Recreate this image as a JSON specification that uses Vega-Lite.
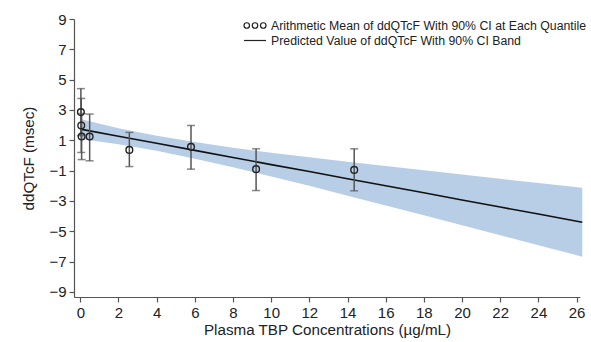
{
  "$schema": "https://vega.github.io/schema/vega-lite/v6.json",
  "width": 506,
  "height": 278,
  "autosize": {"type": "none"},
  "padding": {"left": 74, "top": 19, "right": 11, "bottom": 45},
  "background": "white",
  "config": {
    "view": {"stroke": null},
    "font": "Liberation Sans",
    "axis": {
      "grid": false,
      "domainColor": "#555555",
      "tickColor": "#555555",
      "labelColor": "#222222",
      "titleColor": "#222222",
      "labelFont": "Liberation Sans",
      "titleFont": "Liberation Sans",
      "labelFontSize": 15,
      "titleFontSize": 15.2,
      "titleFontWeight": "normal",
      "tickSize": 5,
      "domainWidth": 1.2,
      "tickWidth": 1.2,
      "labelOverlap": false,
      "labelBound": false,
      "labelFlush": false
    }
  },
  "datasets": {
    "band": [
      {"conc": 0, "pred": 1.74, "lower": 1.08, "upper": 2.4},
      {"conc": 2, "pred": 1.27, "lower": 0.74, "upper": 1.8},
      {"conc": 4, "pred": 0.81, "lower": 0.31, "upper": 1.31},
      {"conc": 6, "pred": 0.34, "lower": -0.21, "upper": 0.89},
      {"conc": 8, "pred": -0.13, "lower": -0.77, "upper": 0.51},
      {"conc": 10, "pred": -0.6, "lower": -1.38, "upper": 0.18},
      {"conc": 12, "pred": -1.06, "lower": -2.0, "upper": -0.12},
      {"conc": 14, "pred": -1.53, "lower": -2.65, "upper": -0.41},
      {"conc": 16, "pred": -2.0, "lower": -3.3, "upper": -0.7},
      {"conc": 18, "pred": -2.46, "lower": -3.94, "upper": -0.98},
      {"conc": 20, "pred": -2.93, "lower": -4.6, "upper": -1.26},
      {"conc": 22, "pred": -3.4, "lower": -5.26, "upper": -1.54},
      {"conc": 24, "pred": -3.86, "lower": -5.91, "upper": -1.81},
      {"conc": 26.3, "pred": -4.4, "lower": -6.67, "upper": -2.13}
    ],
    "means": [
      {"conc": 0.03, "mean": 2.86, "lo": 1.31, "hi": 4.41},
      {"conc": 0.05, "mean": 1.98, "lo": 0.2, "hi": 3.76},
      {"conc": 0.07, "mean": 1.25, "lo": -0.27, "hi": 2.77},
      {"conc": 0.49, "mean": 1.25, "lo": -0.35, "hi": 2.73},
      {"conc": 2.57, "mean": 0.37, "lo": -0.73, "hi": 1.52},
      {"conc": 5.8, "mean": 0.57, "lo": -0.9, "hi": 1.98},
      {"conc": 9.21, "mean": -0.9, "lo": -2.31, "hi": 0.44},
      {"conc": 14.35, "mean": -0.95, "lo": -2.33, "hi": 0.44}
    ],
    "legendrows": [
      {"conc": 10, "mean": 0, "series": "Arithmetic Mean of ddQTcF With 90% CI at Each Quantile"},
      {"conc": 10, "mean": 0, "series": "Predicted Value of ddQTcF With 90% CI Band"}
    ]
  },
  "encoding": {
    "x": {
      "field": "conc", "type": "quantitative",
      "scale": {"domain": [-0.33, 26.18], "nice": false, "zero": false},
      "axis": {"values": [0,2,4,6,8,10,12,14,16,18,20,22,24,26], "tickCount": 14, "title": "Plasma TBP Concentrations (µg/mL)", "titlePadding": 2, "labelPadding": 3}
    }
  },
  "layer": [
    {
      "data": {"name": "band"},
      "mark": {"type": "area", "color": "#b8cee7", "opacity": 1},
      "encoding": {
        "y": {
          "field": "lower", "type": "quantitative",
          "scale": {"domain": [-9.33, 9], "nice": false, "zero": false},
          "axis": {"values": [-9,-7,-5,-3,-1,1,3,5,7,9], "tickCount": 10, "title": "ddQTcF (msec)", "titlePadding": 12, "labelPadding": 3}
        },
        "y2": {"field": "upper"}
      }
    },
    {
      "data": {"name": "band"},
      "mark": {"type": "line", "color": "#111111", "strokeWidth": 1.6},
      "encoding": {
        "y": {"field": "pred", "type": "quantitative", "axis": {"values": [-9,-7,-5,-3,-1,1,3,5,7,9], "tickCount": 10, "title": "ddQTcF (msec)", "titlePadding": 12, "labelPadding": 3}}
      }
    },
    {
      "data": {"name": "means"},
      "mark": {"type": "rule", "color": "#555555", "strokeWidth": 1.5},
      "encoding": {
        "y": {"field": "lo", "type": "quantitative", "axis": {"values": [-9,-7,-5,-3,-1,1,3,5,7,9], "tickCount": 10, "title": "ddQTcF (msec)", "titlePadding": 12, "labelPadding": 3}},
        "y2": {"field": "hi"}
      }
    },
    {
      "data": {"name": "means"},
      "mark": {"type": "tick", "orient": "horizontal", "color": "#555555", "size": 8, "thickness": 1.5},
      "encoding": {
        "y": {"field": "lo", "type": "quantitative", "axis": {"values": [-9,-7,-5,-3,-1,1,3,5,7,9], "tickCount": 10, "title": "ddQTcF (msec)", "titlePadding": 12, "labelPadding": 3}}
      }
    },
    {
      "data": {"name": "means"},
      "mark": {"type": "tick", "orient": "horizontal", "color": "#555555", "size": 8, "thickness": 1.5},
      "encoding": {
        "y": {"field": "hi", "type": "quantitative", "axis": {"values": [-9,-7,-5,-3,-1,1,3,5,7,9], "tickCount": 10, "title": "ddQTcF (msec)", "titlePadding": 12, "labelPadding": 3}}
      }
    },
    {
      "data": {"name": "means"},
      "mark": {"type": "point", "filled": false, "color": "#222222", "size": 45, "strokeWidth": 1.4, "opacity": 1},
      "encoding": {
        "y": {"field": "mean", "type": "quantitative", "axis": {"values": [-9,-7,-5,-3,-1,1,3,5,7,9], "tickCount": 10, "title": "ddQTcF (msec)", "titlePadding": 12, "labelPadding": 3}}
      }
    },
    {
      "data": {"name": "legendrows"},
      "mark": {"type": "point", "filled": false, "color": "#222222", "opacity": 0},
      "encoding": {
        "y": {"field": "mean", "type": "quantitative", "axis": {"values": [-9,-7,-5,-3,-1,1,3,5,7,9], "tickCount": 10, "title": "ddQTcF (msec)", "titlePadding": 12, "labelPadding": 3}},
        "shape": {
          "field": "series", "type": "nominal",
          "scale": {
            "domain": ["Arithmetic Mean of ddQTcF With 90% CI at Each Quantile", "Predicted Value of ddQTcF With 90% CI Band"],
            "range": ["M-2,0a0.5,0.5 0 1,0 1,0a0.5,0.5 0 1,0 -1,0M-0.5,0a0.5,0.5 0 1,0 1,0a0.5,0.5 0 1,0 -1,0M1,0a0.5,0.5 0 1,0 1,0a0.5,0.5 0 1,0 -1,0", "M-2,0L2,0"]
          },
          "legend": {
            "title": null,
            "orient": "none",
            "legendX": 174.5,
            "legendY": 0,
            "symbolSize": 121,
            "symbolOpacity": 1,
            "symbolStrokeColor": "#222222",
            "symbolFillColor": "transparent",
            "symbolStrokeWidth": 1.2,
            "labelFont": "Liberation Sans",
            "labelFontSize": 12.3,
            "labelColor": "#222222",
            "labelLimit": 400,
            "labelOffset": 9.5,
            "rowPadding": 2
          }
        }
      }
    }
  ]
}
